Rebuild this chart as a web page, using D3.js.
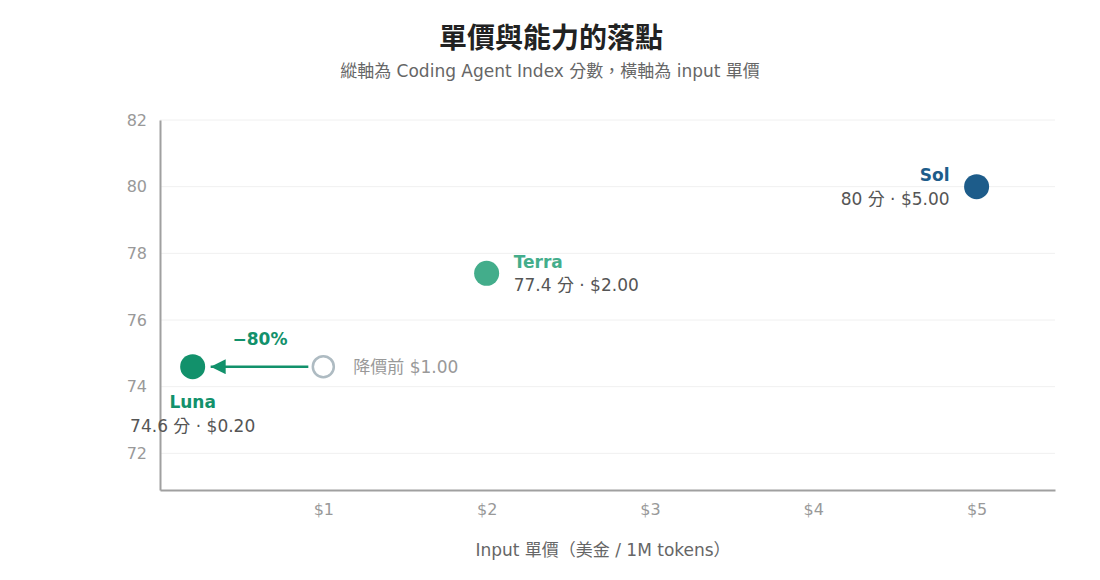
<!DOCTYPE html>
<html>
<head>
<meta charset="utf-8">
<script src="https://cdn.jsdelivr.net/npm/d3@7"></script>
<style>
  body { margin: 0; background: #fff; }
  svg { font-family: "DejaVu Sans", "Noto Sans CJK TC", sans-serif; }
</style>
</head>
<body>
<svg id="chart" width="1100" height="580"></svg>
<script>
// data
const models = ['Luna', 'Terra', 'Sol'];
const prices = [0.2, 2.0, 5.0];
const scores = [74.6, 77.4, 80];
const colors = ['#12916b', '#43ad8b', '#1d5c8a'];
const oldPrice = 1.0;
const priceDrop = '−80%';
const xTicks = [1, 2, 3, 4, 5];
const yTicks = [72, 74, 76, 78, 80, 82];

const width = 1100;
const height = 580;
const margin = { top: 120, right: 45, bottom: 90, left: 160 };

const svg = d3.select('#chart');

const x = d3.scaleLinear()
  .domain([0, 5.48])
  .range([margin.left, width - margin.right]);

const y = d3.scaleLinear()
  .domain([70.9, 82])
  .range([height - margin.bottom, margin.top]);

// title
svg.append('text')
  .attr('x', 551).attr('y', 48)
  .attr('text-anchor', 'middle')
  .attr('font-size', 28).attr('font-weight', 'bold')
  .attr('fill', '#222')
  .text('單價與能力的落點');
svg.append('text')
  .attr('x', 550).attr('y', 77)
  .attr('text-anchor', 'middle')
  .attr('font-size', 17)
  .attr('fill', '#666')
  .text('縱軸為 Coding Agent Index 分數，橫軸為 input 單價');

// grid
svg.append('g')
  .selectAll('line')
  .data(yTicks)
  .join('line')
  .attr('x1', x(0)).attr('x2', x(5.48))
  .attr('y1', d => y(d)).attr('y2', d => y(d))
  .attr('stroke', '#f0f0f0')
  .attr('stroke-width', 1);

// axes
const styleAxis = g => g
  .attr('font-family', null)
  .attr('font-size', 16)
  .call(g => g.select('.domain').attr('stroke', '#a0a0a0').attr('stroke-width', 2))
  .call(g => g.selectAll('text').attr('fill', '#999'));

const xAxis = g => g
  .attr('transform', `translate(0,${height - margin.bottom})`)
  .call(d3.axisBottom(x).tickValues(xTicks).tickFormat(d => '$' + d).tickSize(0).tickPadding(14))
  .call(styleAxis);

const yAxis = g => g
  .attr('transform', `translate(${margin.left},0)`)
  .call(d3.axisLeft(y).tickValues(yTicks).tickSize(0).tickPadding(13))
  .call(styleAxis);

svg.append('g').call(xAxis);
svg.append('g').call(yAxis);

svg.append('text')
  .attr('x', 603).attr('y', 556)
  .attr('text-anchor', 'middle')
  .attr('font-size', 17)
  .attr('fill', '#666')
  .text('Input 單價（美金 / 1M tokens）');

// arrow marker
svg.append('defs').append('marker')
  .attr('id', 'arrow')
  .attr('viewBox', '0 0 10 10')
  .attr('refX', 10).attr('refY', 5)
  .attr('markerWidth', 6.5).attr('markerHeight', 6)
  .attr('markerUnits', 'strokeWidth')
  .attr('orient', 'auto')
  .append('path')
  .attr('d', 'M0,0L10,5L0,10Z')
  .attr('fill', colors[0]);

const luna = 0;
svg.append('line')
  .attr('x1', x(oldPrice) - 15).attr('x2', x(prices[luna]) + 18)
  .attr('y1', y(scores[luna])).attr('y2', y(scores[luna]))
  .attr('stroke', colors[0])
  .attr('stroke-width', 2.5)
  .attr('marker-end', 'url(#arrow)');

svg.append('text')
  .attr('x', (x(oldPrice) + x(prices[luna])) / 2 + 2)
  .attr('y', y(scores[luna]) - 22)
  .attr('text-anchor', 'middle')
  .attr('font-size', 17).attr('font-weight', 'bold')
  .attr('fill', colors[0])
  .text(priceDrop);

// ghost point (before price drop)
svg.append('circle')
  .attr('cx', x(oldPrice)).attr('cy', y(scores[luna]))
  .attr('r', 10.5)
  .attr('fill', '#fff')
  .attr('stroke', '#aebbc2')
  .attr('stroke-width', 2.5);
svg.append('text')
  .attr('x', x(oldPrice) + 30).attr('y', y(scores[luna]) + 6)
  .attr('font-size', 17)
  .attr('fill', '#999')
  .text('降價前 $' + oldPrice.toFixed(2));

// points
svg.append('g')
  .selectAll('circle')
  .data(models)
  .join('circle')
  .attr('cx', (d, i) => x(prices[i]))
  .attr('cy', (d, i) => y(scores[i]))
  .attr('r', 12.5)
  .attr('fill', (d, i) => colors[i]);

// labels: [dx, dyName, dySub, anchor]
const labelPos = [
  [0, 41, 65, 'middle'],
  [27, -5, 18, 'start'],
  [-27, -6, 18, 'end'],
];

models.forEach((m, i) => {
  const [dx, dy1, dy2, anchor] = labelPos[i];
  const cx = x(prices[i]);
  const cy = y(scores[i]);
  svg.append('text')
    .attr('x', cx + dx).attr('y', cy + dy1)
    .attr('text-anchor', anchor)
    .attr('font-size', 17).attr('font-weight', 'bold')
    .attr('fill', colors[i])
    .text(m);
  svg.append('text')
    .attr('x', cx + dx).attr('y', cy + dy2)
    .attr('text-anchor', anchor)
    .attr('font-size', 17)
    .attr('fill', '#555')
    .text(`${scores[i]} 分 · $${prices[i].toFixed(2)}`);
});
</script>
</body>
</html>
